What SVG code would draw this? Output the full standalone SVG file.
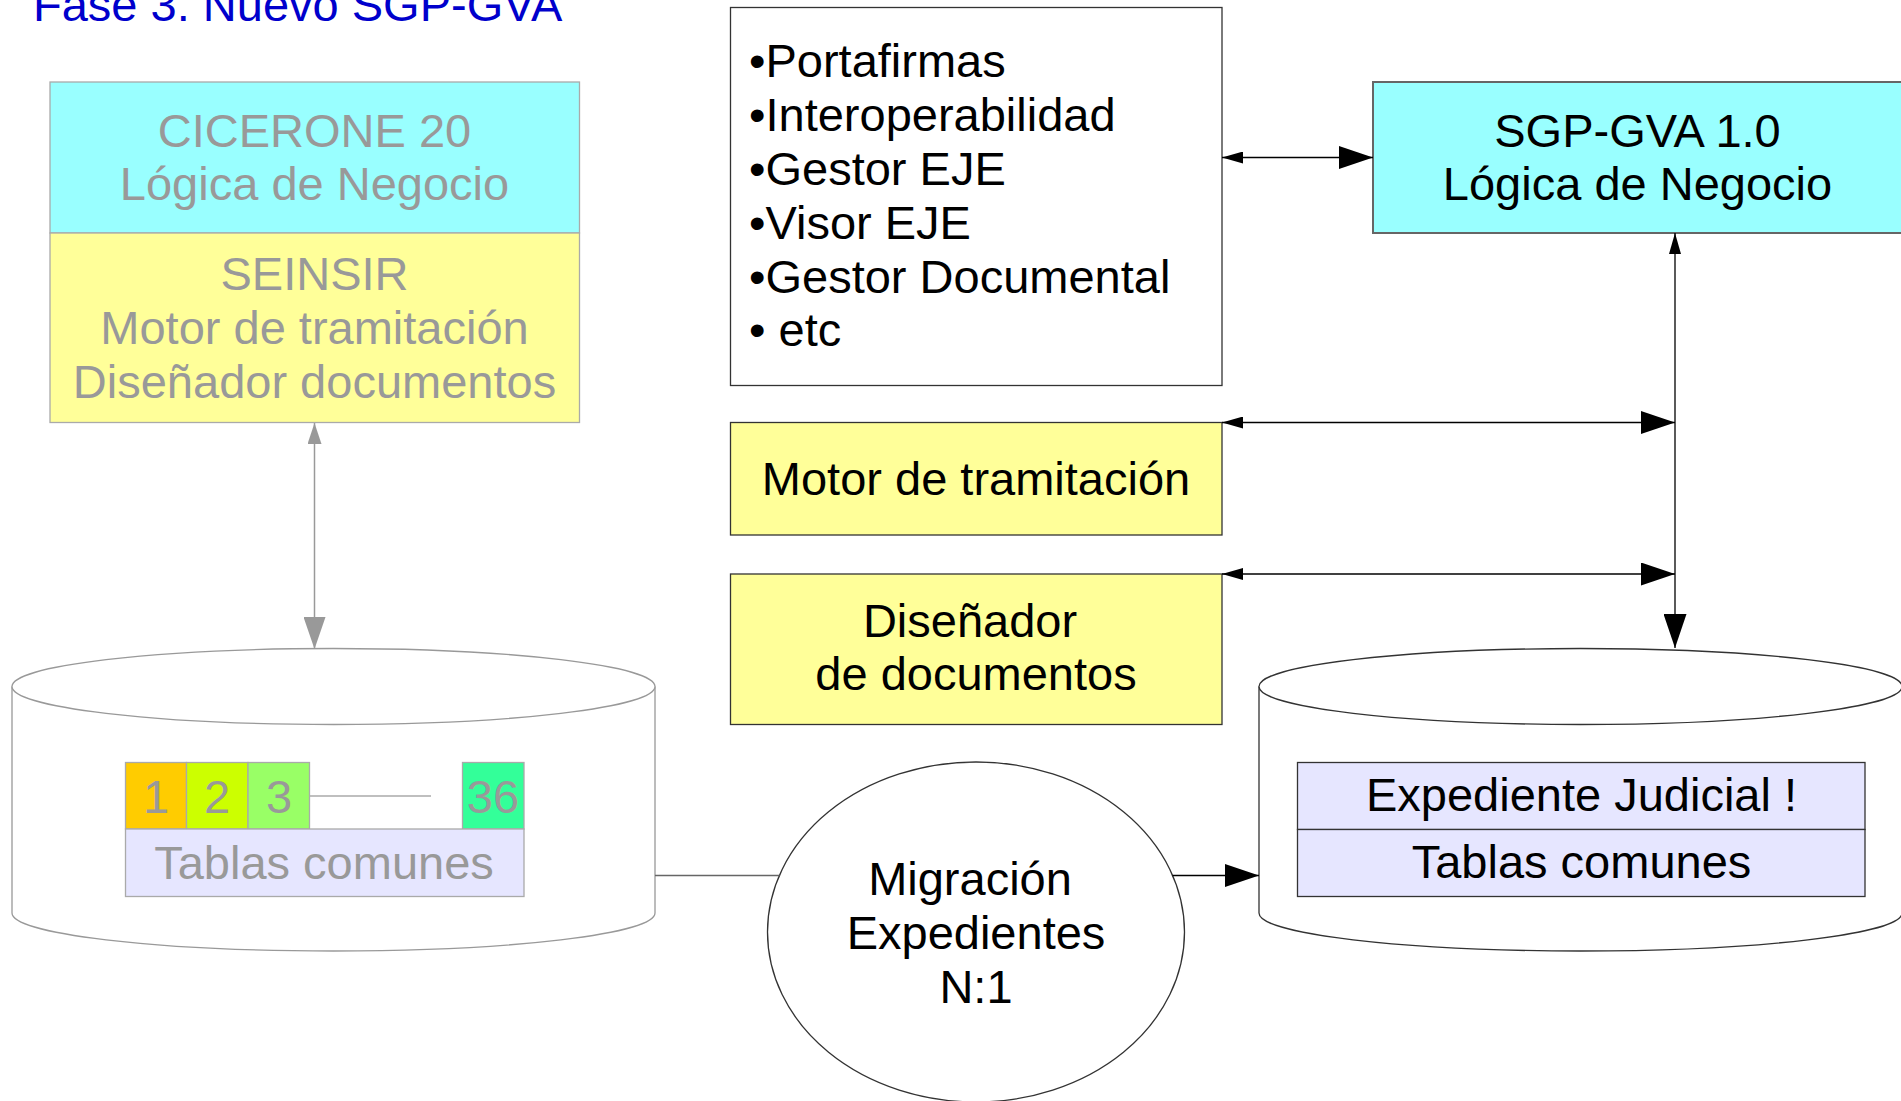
<svg xmlns="http://www.w3.org/2000/svg" width="1901" height="1101" viewBox="0 0 1901 1101">
<style>
text{font-family:"Liberation Sans",Arial,sans-serif;font-size:47px}
.g{fill:#999999}
.b{fill:#000000}
.c{text-anchor:middle}
.ln{stroke:#000;stroke-width:1.3;fill:none}
.lg{stroke:#999;stroke-width:1.5;fill:none}
</style>
<defs>
<marker id="sS" markerUnits="userSpaceOnUse" markerWidth="22" markerHeight="12" refX="21" refY="6" orient="auto-start-reverse"><path d="M0,0 L21,6 L0,12 z" fill="#000"/></marker>
<marker id="bE" markerUnits="userSpaceOnUse" markerWidth="35" markerHeight="23" refX="34" refY="11.5" orient="auto"><path d="M0,0 L34,11.5 L0,23 z" fill="#000"/></marker>
<marker id="gS" markerUnits="userSpaceOnUse" markerWidth="22" markerHeight="14" refX="21" refY="7" orient="auto-start-reverse"><path d="M0,0 L21,7 L0,14 z" fill="#999"/></marker>
<marker id="gE" markerUnits="userSpaceOnUse" markerWidth="33" markerHeight="22" refX="32" refY="11" orient="auto"><path d="M0,0 L32,11 L0,22 z" fill="#999"/></marker>
</defs>
<rect width="1901" height="1101" fill="#fff"/>
<text id="title" x="33" y="21" fill="#0000cc">Fase 3. Nuevo SGP-GVA</text>

<g id="cicerone">
<rect x="50" y="82" width="529.5" height="151" fill="#99ffff" stroke="#aaaaaa" stroke-width="1.3"/>
<rect x="50" y="233" width="529.5" height="189.5" fill="#ffff99" stroke="#aaaaaa" stroke-width="1.3"/>
<text class="g c" x="314.5" y="147">CICERONE 20</text>
<text class="g c" x="314.5" y="200">Lógica de Negocio</text>
<text class="g c" x="314.5" y="290">SEINSIR</text>
<text class="g c" x="314.5" y="344">Motor de tramitación</text>
<text class="g c" x="314.5" y="398">Diseñador documentos</text>
</g>

<g id="servicios">
<rect x="730.5" y="7.5" width="491.5" height="378" fill="#fff" stroke="#333" stroke-width="1.3"/>
<text class="b" x="749" y="77">•Portafirmas</text>
<text class="b" x="749" y="131">•Interoperabilidad</text>
<text class="b" x="749" y="185">•Gestor EJE</text>
<text class="b" x="749" y="239">•Visor EJE</text>
<text class="b" x="749" y="293">•Gestor Documental</text>
<text class="b" x="749" y="346">• etc</text>
</g>

<g id="sgp">
<rect x="1373" y="82" width="529" height="151" fill="#99ffff" stroke="#666" stroke-width="2"/>
<text class="b c" x="1637.5" y="147">SGP-GVA 1.0</text>
<text class="b c" x="1637.5" y="200">Lógica de Negocio</text>
</g>

<g id="motor">
<rect x="730.5" y="422.5" width="491.5" height="112.5" fill="#ffff99" stroke="#333" stroke-width="1.3"/>
<text class="b c" x="976" y="495">Motor de tramitación</text>
</g>

<g id="disenador">
<rect x="730.5" y="574" width="491.5" height="150.5" fill="#ffff99" stroke="#333" stroke-width="1.3"/>
<text class="b c" x="970" y="637">Diseñador</text>
<text class="b c" x="976" y="690">de documentos</text>
</g>

<g id="bd-cicerone">
<path d="M12,686.5 L12,913 A321.5,38 0 0 0 655,913 L655,686.5" fill="#fff" stroke="#999" stroke-width="1.3"/>
<ellipse cx="333.5" cy="686.5" rx="321.5" ry="38" fill="#fff" stroke="#999" stroke-width="1.3"/>
<rect x="125.5" y="762.5" width="61" height="66.5" fill="#ffcc00" stroke="#aaa" stroke-width="1.3"/>
<rect x="186.5" y="762.5" width="61.5" height="66.5" fill="#ccff00" stroke="#aaa" stroke-width="1.3"/>
<rect x="248" y="762.5" width="61.5" height="66.5" fill="#99ff66" stroke="#aaa" stroke-width="1.3"/>
<rect x="462.5" y="762.5" width="61.5" height="66.5" fill="#33ff99" stroke="#aaa" stroke-width="1.3"/>
<line x1="309.5" y1="796" x2="431" y2="796" stroke="#aaa" stroke-width="1.5"/>
<text class="g c" x="156" y="813">1</text>
<text class="g c" x="217" y="813">2</text>
<text class="g c" x="279" y="813">3</text>
<text class="g c" x="493" y="813">36</text>
<rect x="125.5" y="829" width="398.5" height="67.5" fill="#e6e6ff" stroke="#aaa" stroke-width="1.3"/>
<text class="g c" x="324" y="879">Tablas comunes</text>
</g>

<g id="migracion">
<ellipse cx="976" cy="932" rx="208.5" ry="170" fill="#fff" stroke="#333" stroke-width="1.3"/>
<text class="b c" x="970" y="895">Migración</text>
<text class="b c" x="976" y="949">Expedientes</text>
<text class="b c" x="976" y="1003">N:1</text>
</g>

<g id="bd-sgp">
<path d="M1259,686.5 L1259,913 A321.5,38 0 0 0 1902,913 L1902,686.5" fill="#fff" stroke="#333" stroke-width="1.3"/>
<ellipse cx="1580.5" cy="686.5" rx="321.5" ry="38" fill="#fff" stroke="#333" stroke-width="1.3"/>
<rect x="1297.5" y="762.5" width="567.5" height="67" fill="#e6e6ff" stroke="#333" stroke-width="1.3"/>
<rect x="1297.5" y="829.5" width="567.5" height="67" fill="#e6e6ff" stroke="#333" stroke-width="1.3"/>
<text class="b c" x="1581.5" y="811">Expediente Judicial !</text>
<text class="b c" x="1581.5" y="878">Tablas comunes</text>
</g>

<g id="connectors">
<line class="ln" x1="1222" y1="157.5" x2="1373" y2="157.5" marker-start="url(#sS)" marker-end="url(#bE)"/>
<line class="ln" x1="1222" y1="422.5" x2="1675" y2="422.5" marker-start="url(#sS)" marker-end="url(#bE)"/>
<line class="ln" x1="1222" y1="574" x2="1675" y2="574" marker-start="url(#sS)" marker-end="url(#bE)"/>
<line class="ln" x1="1675" y1="233" x2="1675" y2="648" marker-start="url(#sS)" marker-end="url(#bE)"/>
<line class="lg" x1="314.5" y1="423" x2="314.5" y2="649" marker-start="url(#gS)" marker-end="url(#gE)"/>
<line x1="655" y1="875.5" x2="779.5" y2="875.5" stroke="#666" stroke-width="1.5"/>
<line class="ln" x1="1172.5" y1="875.5" x2="1259" y2="875.5" marker-end="url(#bE)"/>
</g>
</svg>
